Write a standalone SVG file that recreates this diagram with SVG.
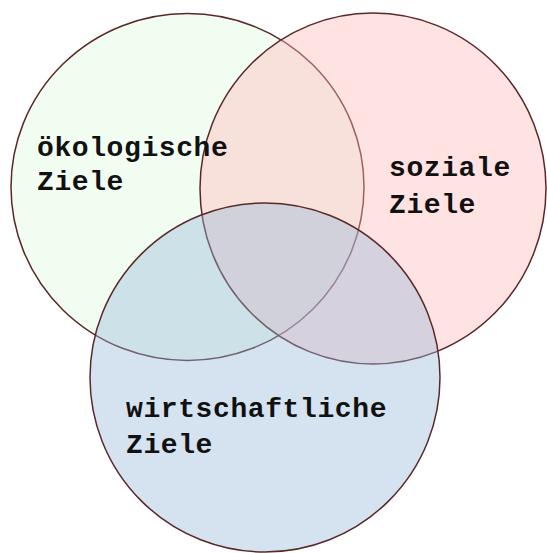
<svg xmlns="http://www.w3.org/2000/svg" width="547" height="553" viewBox="0 0 547 553">
<style>
.c{stroke:#5a2828;stroke-width:1.5}
.t{font-family:"Liberation Mono","Courier New",monospace;font-weight:bold;font-size:28px;letter-spacing:0.6px;fill:#111}
</style>
<rect width="547" height="553" fill="#fff"/>
<g id="oekologisch"><ellipse class="c" cx="187.5" cy="187" rx="176.5" ry="173.5" fill="#f2fdf2"/></g>
<g id="sozial"><ellipse class="c" cx="373" cy="188.5" rx="173" ry="175.5" fill="#ffb6b6" fill-opacity="0.4"/></g>
<g id="wirtschaftlich"><ellipse class="c" cx="265" cy="377.5" rx="175" ry="174.5" fill="#96b9d9" fill-opacity="0.4"/></g>
<g id="labels">
<text class="t" x="37" y="156">ökologische</text>
<text class="t" x="37" y="190">Ziele</text>
<text class="t" x="389" y="176">soziale</text>
<text class="t" x="389" y="213">Ziele</text>
<text class="t" x="126" y="417">wirtschaftliche</text>
<text class="t" x="126" y="453">Ziele</text>
</g>
<g id="connectors"/>
</svg>
